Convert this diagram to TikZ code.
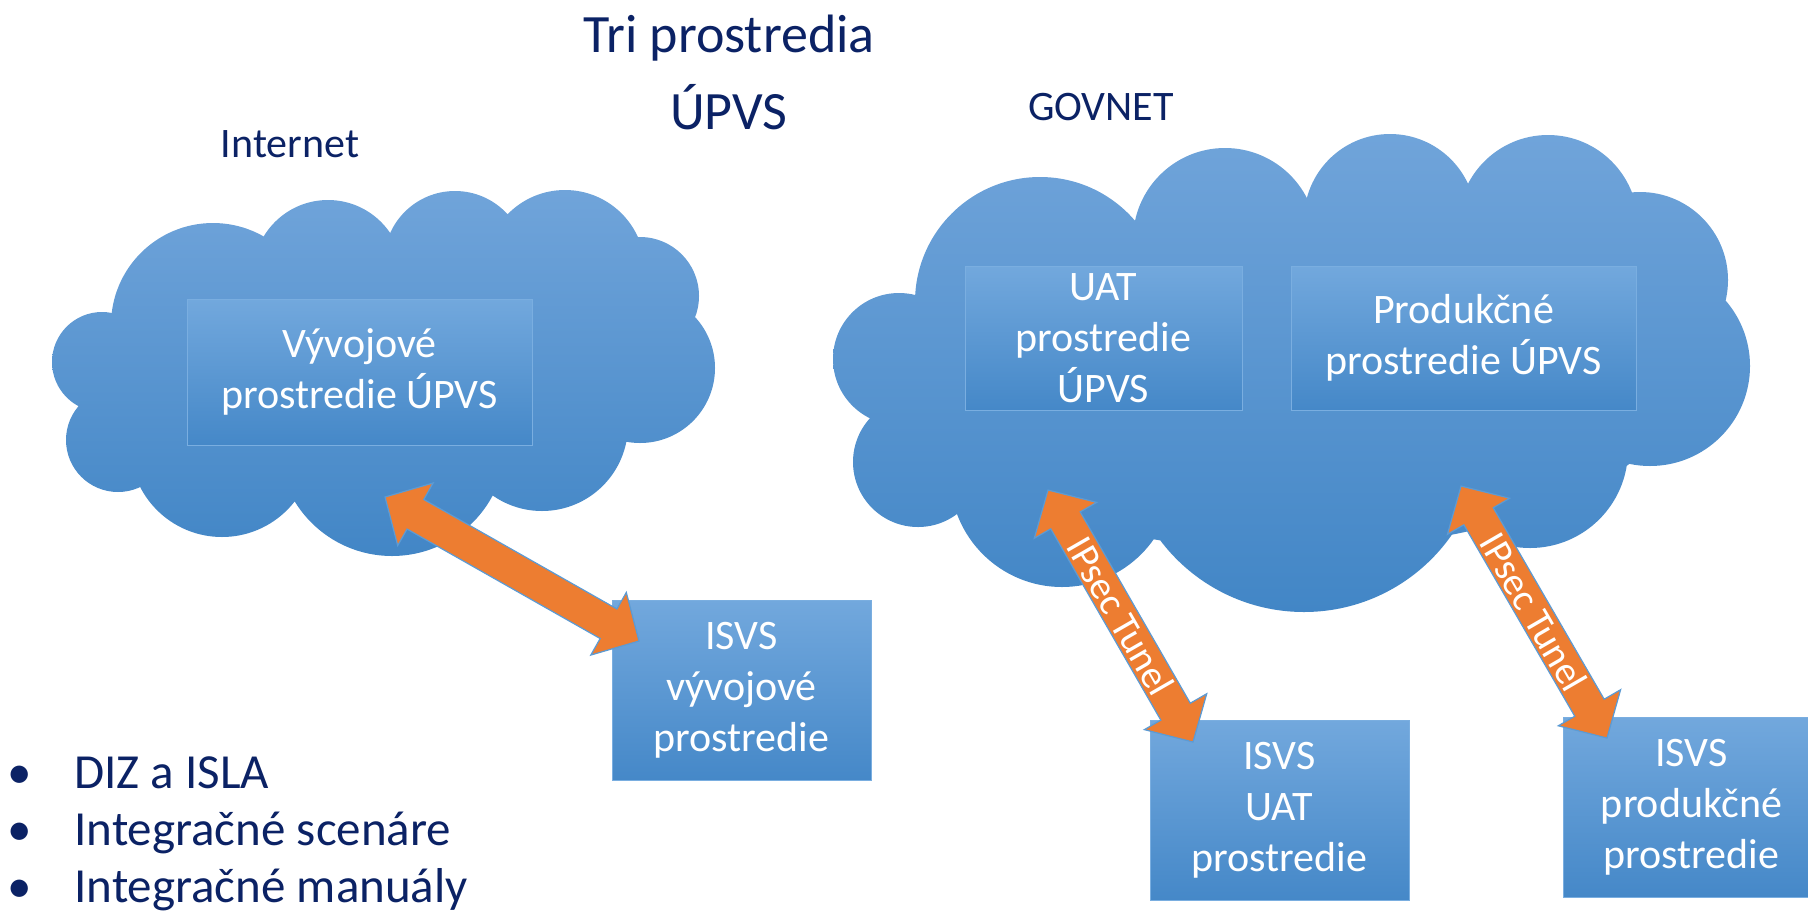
\documentclass[tikz,border=0pt]{standalone}
\usepackage{fontspec}
\setmainfont{Carlito}
\usetikzlibrary{calc}
\definecolor{navy}{HTML}{0B2265}
\definecolor{cloudtop}{HTML}{70A4DA}
\definecolor{cloudbot}{HTML}{4286C6}
\definecolor{boxtop}{HTML}{72A8DD}
\definecolor{boxbot}{HTML}{4588C8}
\definecolor{boxedge}{HTML}{7AAEE0}
\definecolor{arrowfill}{HTML}{ED7D31}
\definecolor{arrowedge}{HTML}{5B9BD5}
\tikzset{
  titletext/.style={text=navy, font=\fontsize{27}{32}\selectfont, inner sep=0, anchor=base},
  nettext/.style={text=navy, font=\fontsize{21}{25}\selectfont, inner sep=0, anchor=base},
  bultext/.style={text=navy, font=\fontsize{24.5}{28.5}\selectfont, inner sep=0, anchor=base west},
  bulmark/.style={text=navy, font=\fontsize{24.5}{28.5}\selectfont, inner sep=0, anchor=base},
  envbox/.style={top color=boxtop, bottom color=boxbot, draw=boxedge, line width=0.5pt,
    text=white, align=center, font=\fontsize{21}{25.5}\selectfont, inner sep=0},
  cloudfill/.style={top color=cloudtop, bottom color=cloudbot, draw=none},
  fatarrow/.style={fill=arrowfill, draw=arrowedge, line width=0.6pt, line join=miter},
  tunnel/.style={text=white, font=\fontsize{19.5}{23}\selectfont, inner sep=0}
}
\newcommand{\fatarrow}[2]{%
  \coordinate (fa1) at ($(#1)!17.5pt!(#2)$);
  \coordinate (fa2) at ($(#2)!17.5pt!(#1)$);
  \filldraw[fatarrow] (#1)
    -- ($(fa1)!18pt!90:(#2)$) -- ($(fa1)!8.5pt!90:(#2)$)
    -- ($(fa2)!8.5pt!-90:(#1)$) -- ($(fa2)!18pt!-90:(#1)$)
    -- (#2)
    -- ($(fa2)!18pt!90:(#1)$) -- ($(fa2)!8.5pt!90:(#1)$)
    -- ($(fa1)!8.5pt!-90:(#2)$) -- ($(fa1)!18pt!-90:(#2)$) -- cycle;
}
\begin{document}
\begin{tikzpicture}[x=0.5pt,y=-0.5pt]
\useasboundingbox (0,0) rectangle (1808,911);

% left cloud (Internet)
\shade[cloudfill]
  (102,362) circle (50)
  (118,440) circle (52)
  (222,445) circle (92)
  (392,442) circle (114)
  (542,425) circle (86)
  (640,368) circle (75)
  (640,296) circle (59)
  (565,270) circle (80)
  (455,262) circle (71)
  (328,275) circle (75)
  (213,325) circle (102)
  (390,370) ellipse (260 and 120);

% right cloud (GOVNET)
\shade[cloudfill]
  (899,359) circle (66)
  (918,462) circle (65)
  (1062,475) circle (112)
  (1304,432) circle (180)
  (1530,450) circle (98)
  (1650,366) circle (100)
  (1640,280) circle (88)
  (1548,225) circle (90)
  (1390,220) circle (86)
  (1225,240) circle (92)
  (1040,302) circle (125)
  (1290,380) ellipse (390 and 170);

% titles
\node[titletext] (t1) at (729,52) {Tri prostredia};
\node[titletext] (t2) at (729,129) {ÚPVS};
\node[nettext] (inet) at (290,157) {Internet};
\node[nettext] (gov) at (1101,120) {GOVNET};

% environment boxes inside clouds
\node[envbox, minimum width=172.5pt, minimum height=73pt] (dev) at (359.5,372) {Vývojové\\prostredie ÚPVS};
\node[envbox, minimum width=138.5pt, minimum height=72pt] (uat) at (1103.5,338) {UAT\\prostredie\\ÚPVS};
\node[envbox, minimum width=172.5pt, minimum height=72pt] (prod) at (1463.5,338) {Produkčné\\prostredie ÚPVS};

% ISVS boxes
\node[envbox, minimum width=129.5pt, minimum height=90pt] (isvsdev) at (741.5,690) {ISVS\\vývojové\\prostredie};
\node[envbox, minimum width=129.5pt, minimum height=90pt] (isvsuat) at (1279.5,810) {ISVS\\UAT\\prostredie};
\node[envbox, minimum width=128.5pt, minimum height=90pt] (isvsprod) at (1691.5,807) {ISVS\\produkčné\\prostredie};

% arrows
\coordinate (a1) at (385,497);
\coordinate (a2) at (639,641);
\coordinate (b1) at (1048,490);
\coordinate (b2) at (1193,742);
\coordinate (c1) at (1461,486);
\coordinate (c2) at (1607,738);
\fatarrow{a1}{a2}
\fatarrow{b1}{b2}
\fatarrow{c1}{c2}
\path (b1) -- (b2) node[tunnel, midway, sloped] (lb) {IPsec Tunel};
\path (c1) -- (c2) node[tunnel, midway, sloped] (lc) {IPsec Tunel};

% bullet list
\node[bulmark] (m1) at (20,788) {•};
\node[bulmark] (m2) at (20,845) {•};
\node[bulmark] (m3) at (20,902) {•};
\node[bultext] (l1) at (74,788) {DIZ a ISLA};
\node[bultext] (l2) at (74,845) {Integračné scenáre};
\node[bultext] (l3) at (74,902) {Integračné manuály};
\end{tikzpicture}
\end{document}
